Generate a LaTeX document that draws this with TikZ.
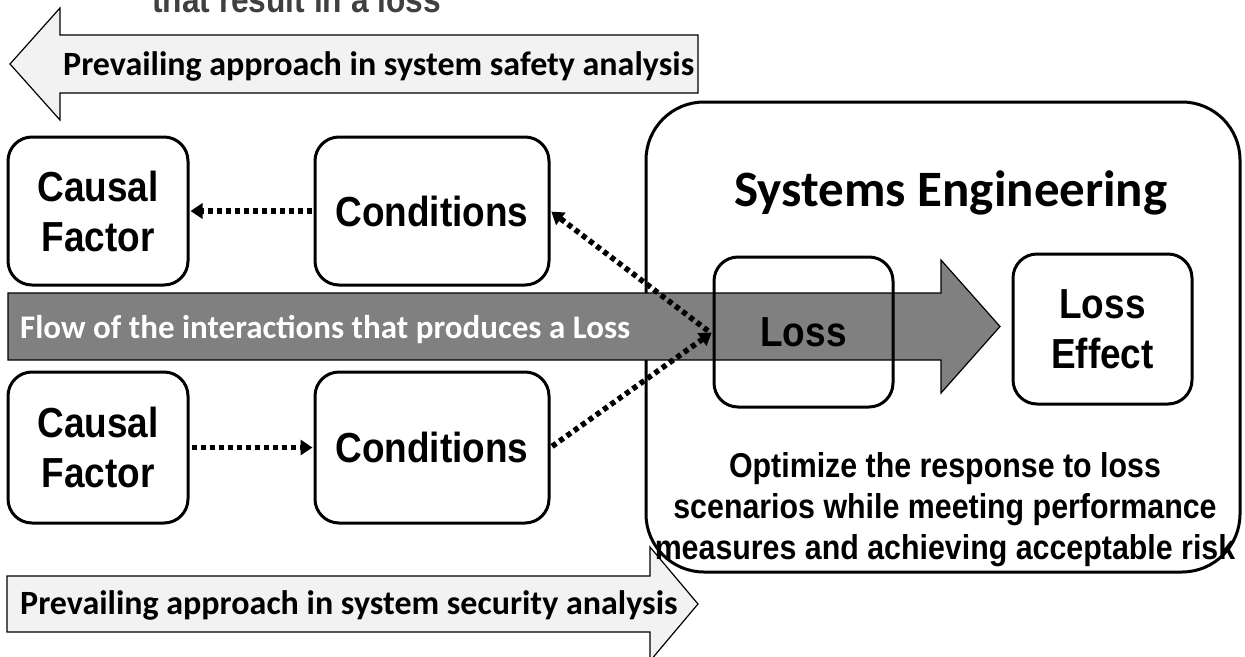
\documentclass[tikz,border=0pt]{standalone}
\usepackage{fontspec}
\setmainfont{Liberation Sans}
\newfontfamily\narrowfont{Liberation Sans}[FakeStretch=0.88]
\newfontfamily\califont{Carlito}
\usetikzlibrary{arrows.meta}

\definecolor{paleband}{HTML}{F2F2F2}
\definecolor{flowgray}{HTML}{808080}
\definecolor{captiongray}{HTML}{404040}

\tikzset{
  stagebox/.style={draw=black, line width=3pt, rounded corners=24pt,
    fill=none, align=center, inner sep=0pt,
    font=\narrowfont\bfseries\fontsize{42}{50}\selectfont},
  bandarrow/.style={draw=black, line width=1.2pt, fill=paleband, line join=miter},
  bandtext/.style={font=\califont\bfseries\fontsize{34}{40}\selectfont, inner sep=0pt},
  dotlink/.style={line width=5.5pt, dash pattern=on 5pt off 4pt,
    -{Triangle[length=12pt,width=15pt]}, shorten >=1pt, shorten <=2pt}
}

\begin{document}
\begin{tikzpicture}[x=1pt,y=-1pt]
\useasboundingbox (0,0) rectangle (1245,656);

% caption line running off the top edge
\node[anchor=base west, inner sep=0pt, text=captiongray,
      font=\narrowfont\bfseries\fontsize{36}{40}\selectfont] (caption) at (152,12) {that result in a loss};

% safety analysis: leftward band arrow
\draw[bandarrow] (10,64) -- (60,8) -- (60,35) -- (698,35) -- (698,93)
  -- (60,93) -- (60,120) -- cycle;
\node[bandtext, anchor=west] (safety) at (63,66) {Prevailing approach in system safety analysis};

% security analysis: rightward band arrow
\draw[bandarrow] (7,576) -- (650,576) -- (650,547) -- (698,604)
  -- (650,661) -- (650,632) -- (7,632) -- cycle;
\node[bandtext, anchor=west] (security) at (20,605) {Prevailing approach in system security analysis};

% systems engineering frame
\draw[line width=3pt, rounded corners=58pt] (646,102) rectangle (1240,572);
\node[font=\califont\bfseries\fontsize{51}{58}\selectfont, inner sep=0pt,
      anchor=base] (se) at (951,206) {Systems Engineering};
\node[align=center, inner sep=0pt,
      font=\narrowfont\bfseries\fontsize{34.5}{41}\selectfont] (goal) at (945,510)
  {Optimize the response to loss\\scenarios while meeting performance\\measures and achieving acceptable risk};

% left-hand stages
\node[stagebox, minimum width=180pt, minimum height=148pt] (cf1) at (98,211) {Causal\\Factor};
\node[stagebox, minimum width=234pt, minimum height=148pt] (co1) at (432,211) {Conditions};
\node[stagebox, minimum width=180pt, minimum height=151pt] (cf2) at (98,447.5) {Causal\\Factor};
\node[stagebox, minimum width=234pt, minimum height=151pt] (co2) at (432,447.5) {Conditions};

% flow band through the middle
\draw[draw=black, line width=1.2pt, fill=flowgray] (8,293) -- (941,293) -- (941,260)
  -- (1000,326.5) -- (941,393) -- (941,360) -- (8,360) -- cycle;
\node[font=\califont\bfseries\fontsize{33}{40}\selectfont, text=white,
      inner sep=0pt, anchor=west] (flow) at (20,329) {Flow of the interactions that produces a Loss};

% loss and its effect
\node[stagebox, minimum width=179pt, minimum height=150pt] (loss) at (803.5,332) {Loss};
\node[stagebox, minimum width=179pt, minimum height=150pt] (effect) at (1102.5,329) {Loss\\Effect};

% dotted links
\draw[dotlink] (co1.west) -- (cf1.east);
\draw[dotlink] (cf2.east) -- (co2.west);
\draw[dotlink] ([xshift=-3pt]loss.west) -- (co1.east);
\draw[dotlink] (co2.east) -- (loss.west);
\end{tikzpicture}
\end{document}
